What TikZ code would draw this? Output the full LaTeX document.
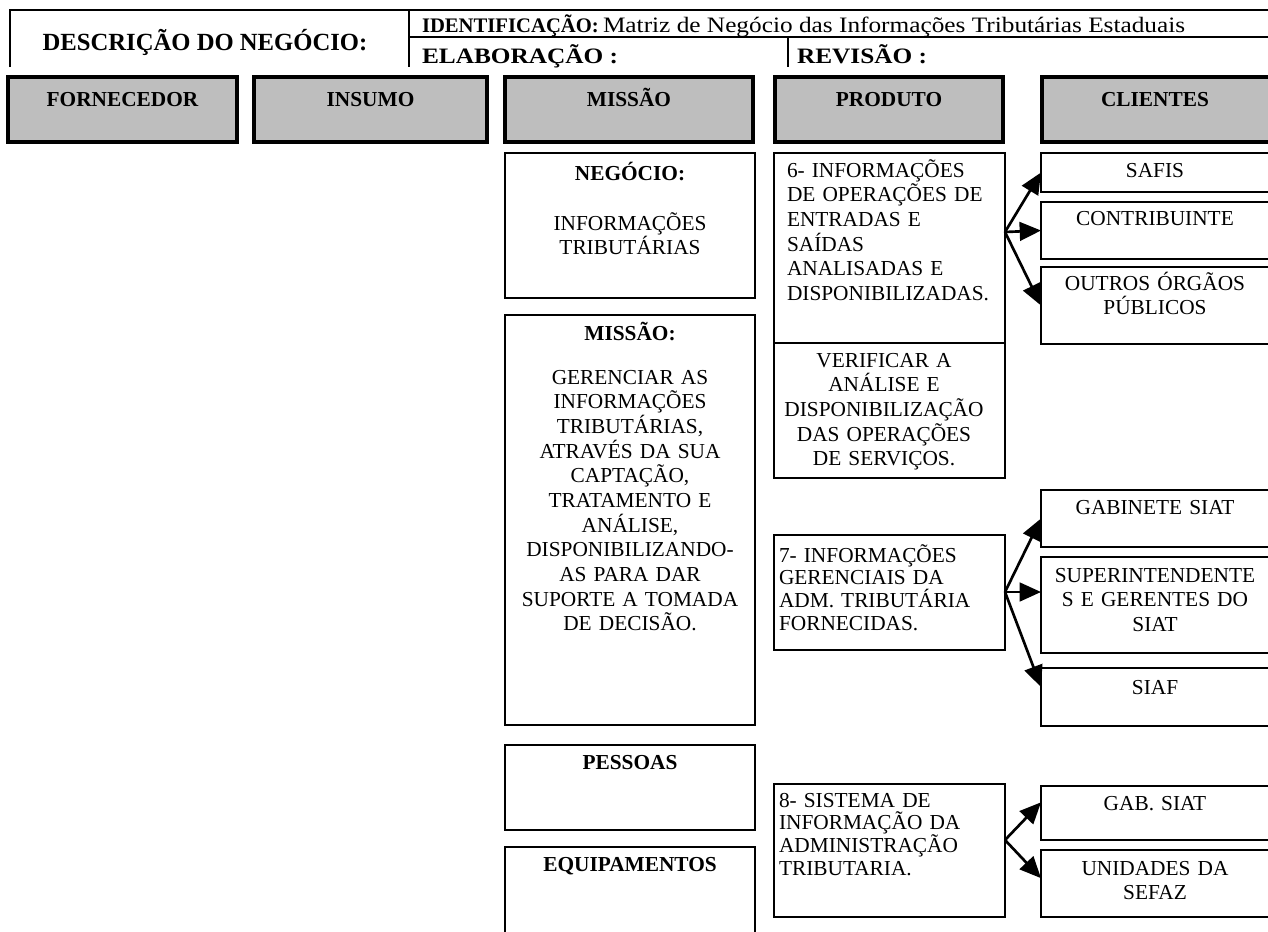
\documentclass[tikz,border=0pt]{standalone}
\usepackage{fontspec}
\setmainfont{Liberation Serif}
\newfontfamily\widefont[FakeStretch=1.15]{Liberation Serif}
\usetikzlibrary{arrows.meta,fit}
\definecolor{headgray}{HTML}{BEBEBE}
\newcommand{\hdrbfont}{\fontsize{15.5}{19}\selectfont\bfseries}
\begin{document}
\begin{tikzpicture}[x=0.75pt,y=-0.75pt,
  every node/.style={inner sep=0pt,outer sep=0pt},
  rule/.style={line width=1.2pt},
  headbox/.style={draw,rectangle,line width=2.5pt,fill=headgray},
  cell/.style={draw,rectangle,line width=2pt},
  cellrule/.style={line width=2pt},
  txt/.style={font=\fontsize{16}{18.5}\selectfont,align=center,anchor=base},
  txtb/.style={font=\fontsize{16}{18.5}\selectfont\bfseries,anchor=base},
  txtl/.style={font=\fontsize{16}{18.5}\selectfont,align=left,anchor=base west},
  tight/.style={font=\fontsize{16}{17.2}\selectfont},
  headtxt/.style={font=\fontsize{16}{18.5}\selectfont\bfseries,anchor=base},
  hdr/.style={font=\widefont\fontsize{16.5}{19}\selectfont,anchor=base west},
  arr/.style={line width=2pt,-{Triangle[length=16pt,width=14pt]}},
]
\useasboundingbox (0,0) rectangle (1268,932);

% ---- form header ----
\draw[rule] (10,67) -- (10,10) -- (1272,10);
\draw[rule] (409,10) -- (409,67);
\draw[rule] (409,37) -- (1272,37);
\draw[rule] (788,37) -- (788,67);
\node[font=\fontsize{18.5}{22}\selectfont\bfseries,anchor=base] (title) at (205,50) {DESCRIÇÃO DO NEGÓCIO:};
\node[font=\hdrbfont,anchor=base west] (ident) at (422,32) {IDENTIFICAÇÃO:};
\node[hdr] (identT) at (603,32) {Matriz de Negócio das Informações Tributárias Estaduais};
\node[hdr] (elab) at (422,63) {\bfseries ELABORAÇÃO :};
\node[hdr] (rev) at (797,63) {\bfseries REVISÃO :};

% ---- column headings ----
\node[headbox,fit={(8,77)(237,142)}] (hF) {};
\node[headtxt] (hFt) at (hF.center |- 0,106) {FORNECEDOR};
\node[headbox,fit={(254,77)(487,142)}] (hI) {};
\node[headtxt] (hIt) at (hI.center |- 0,106) {INSUMO};
\node[headbox,fit={(505,77)(753,142)}] (hM) {};
\node[headtxt] (hMt) at (hM.center |- 0,106) {MISSÃO};
\node[headbox,fit={(775,77)(1003,142)}] (hP) {};
\node[headtxt] (hPt) at (hP.center |- 0,106) {PRODUTO};
\node[headbox,fit={(1042,77)(1275,142)}] (hC) {};
\node[headtxt] (hCt) at (1155,106) {CLIENTES};

% ---- mission column ----
\node[cell,fit={(505,153)(755,298)}] (neg) {};
\node[txt,text width=185pt] (negT) at (630,180) {\textbf{NEGÓCIO:}\\[19pt]INFORMAÇÕES\\TRIBUTÁRIAS};
\node[cell,fit={(505,315)(755,725)}] (mis) {};
\node[txt,text width=185pt] (misT) at (630,340) {\textbf{MISSÃO:}\\[14.5pt]GERENCIAR AS\\INFORMAÇÕES\\TRIBUTÁRIAS,\\ATRAVÉS DA SUA\\CAPTAÇÃO,\\TRATAMENTO E\\ANÁLISE,\\DISPONIBILIZANDO-\\AS PARA DAR\\SUPORTE A TOMADA\\DE DECISÃO.};
\node[cell,fit={(505,745)(755,830)}] (pes) {};
\node[txtb] (pesT) at (630,769) {PESSOAS};
\node[cell,fit={(505,847)(755,950)}] (equ) {};
\node[txtb] (equT) at (630,871) {EQUIPAMENTOS};

% ---- product column ----
\node[cell,fit={(774,153)(1005,478)}] (p6) {};
\draw[cellrule] (p6.west |- 0,343) -- (p6.east |- 0,343);
\node[txtl,text width=165pt] (p6T) at (787,177) {6- INFORMAÇÕES\\DE OPERAÇÕES DE\\ENTRADAS E\\SAÍDAS\\ANALISADAS E\\DISPONIBILIZADAS.};
\node[txt,text width=172pt] (p6V) at (884,367) {VERIFICAR A\\ANÁLISE E\\DISPONIBILIZAÇÃO\\DAS OPERAÇÕES\\DE SERVIÇOS.};
\node[cell,fit={(774,535)(1005,650)}] (p7) {};
\node[txtl,tight,text width=170pt] (p7T) at (779,562) {7- INFORMAÇÕES\\GERENCIAIS DA\\ADM. TRIBUTÁRIA\\FORNECIDAS.};
\node[cell,fit={(774,784)(1005,917)}] (p8) {};
\node[txtl,tight,text width=170pt] (p8T) at (779,807) {8- SISTEMA DE\\INFORMAÇÃO DA\\ADMINISTRAÇÃO\\TRIBUTARIA.};

% ---- client column ----
\node[cell,fit={(1041,153)(1275,192)}] (safis) {};
\node[txt,text width=170pt] (safisT) at (1155,177) {SAFIS};
\node[cell,fit={(1041,202)(1275,259)}] (contrib) {};
\node[txt,text width=170pt] (contribT) at (1155,225) {CONTRIBUINTE};
\node[cell,fit={(1041,267)(1275,344)}] (outros) {};
\node[txt,text width=170pt] (outrosT) at (1155,290) {OUTROS ÓRGÃOS\\PÚBLICOS};
\node[cell,fit={(1041,490)(1275,547)}] (gab) {};
\node[txt,text width=170pt] (gabT) at (1155,514) {GABINETE SIAT};
\node[cell,fit={(1041,557)(1275,653)}] (super) {};
\node[txt,text width=170pt] (superT) at (1155,582) {SUPERINTENDENTE\\S E GERENTES DO\\SIAT};
\node[cell,fit={(1041,668)(1275,726)}] (siaf) {};
\node[txt,text width=170pt] (siafT) at (1155,694) {SIAF};
\node[cell,fit={(1041,786)(1275,840)}] (gabs) {};
\node[txt,text width=170pt] (gabsT) at (1155,810) {GAB. SIAT};
\node[cell,fit={(1041,850)(1275,917)}] (unid) {};
\node[txt,text width=170pt] (unidT) at (1155,875) {UNIDADES DA\\SEFAZ};

% ---- product to client arrows ----
\coordinate (o6) at (p6.east |- 0,232);
\draw[arr] (o6) -- (safis.west);
\draw[arr] (o6) -- (contrib.west);
\draw[arr] (o6) -- (outros.west);
\coordinate (o7) at (p7.east |- 0,592);
\draw[arr] (o7) -- (gab.west);
\draw[arr] (o7) -- (o7 -| super.west);
\draw[arr] (o7) -- ([yshift=7.5pt]siaf.west);
\coordinate (o8) at (p8.east |- 0,840);
\draw[arr] (o8) -- ([yshift=8pt]gabs.west);
\draw[arr] (o8) -- ([yshift=4pt]unid.west);
\end{tikzpicture}
\end{document}
